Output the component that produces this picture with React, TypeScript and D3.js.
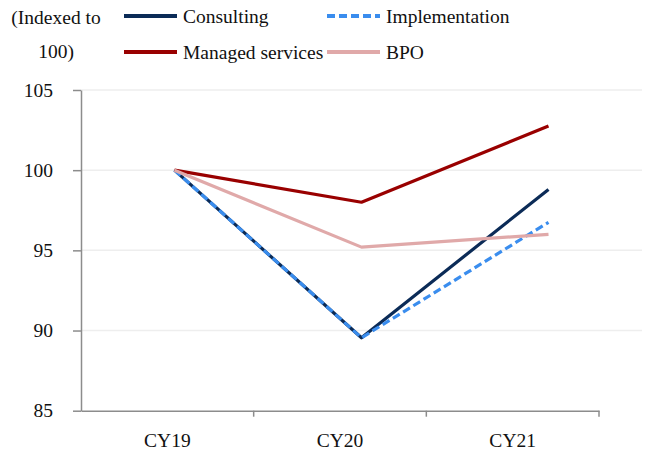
import React, { useEffect, useRef } from 'react';
import * as d3 from 'd3';

const years = ['CY19', 'CY20', 'CY21'];
const consulting = [100, 89.55, 98.8];
const implementation = [100, 89.55, 96.75];
const managed = [100, 98.0, 102.75];
const bpo = [100, 95.2, 96.0];
const yTicks = [85, 90, 95, 100, 105];

const series = [
  { name: 'Consulting', values: consulting, color: '#0b2b57', dash: '' },
  { name: 'Implementation', values: implementation, color: '#3a8dee', dash: '8,4' },
  { name: 'Managed services', values: managed, color: '#990000', dash: '' },
  { name: 'BPO', values: bpo, color: '#e0a9a9', dash: '' },
];

const width = 667;
const height = 452;
const font = "'Liberation Serif', 'DejaVu Serif', serif";
const fs = 19.5;

function App() {
  const ref = useRef<SVGSVGElement>(null);

  useEffect(() => {
    const svg = d3.select(ref.current);
    svg.selectAll('*').remove();

    const y = d3.scaleLinear().domain([85, 105]).range([410.7, 90]);
    const xPlot = d3.scaleBand<string>().domain(years).range([81, 642]);
    const xAxisScale = d3.scaleBand<string>().domain(years).range([81, 599]);

    // grid
    svg.append('g')
      .selectAll('line')
      .data(yTicks.slice(1))
      .join('line')
      .attr('x1', 81).attr('x2', 642)
      .attr('y1', d => y(d)).attr('y2', d => y(d))
      .attr('stroke', '#eeeeee').attr('stroke-width', 1.5);

    // y axis
    const yAxis = svg.append('g')
      .attr('transform', 'translate(81,0)')
      .call(d3.axisLeft(y).tickValues(yTicks).tickSize(8).tickSizeOuter(0).tickPadding(20));
    yAxis.select('.domain').attr('stroke', '#8c8c8c').attr('stroke-width', 1.5);
    yAxis.selectAll('.tick line').attr('stroke', '#8c8c8c').attr('stroke-width', 1.5);
    yAxis.selectAll('.tick text')
      .attr('font-family', font).attr('font-size', fs).attr('fill', '#111');

    // x axis
    const xAxis = svg.append('g')
      .attr('transform', `translate(0,${y(85)})`)
      .call(d3.axisBottom(xAxisScale).tickSize(0).tickPadding(22));
    xAxis.select('.domain').attr('stroke', '#8c8c8c').attr('stroke-width', 1.5);
    xAxis.selectAll('.tick text')
      .attr('font-family', font).attr('font-size', fs).attr('fill', '#111');
    xAxis.append('g')
      .selectAll('line')
      .data(years)
      .join('line')
      .attr('x1', d => (xAxisScale(d) as number) + xAxisScale.bandwidth())
      .attr('x2', d => (xAxisScale(d) as number) + xAxisScale.bandwidth())
      .attr('y1', 0).attr('y2', 6)
      .attr('stroke', '#8c8c8c').attr('stroke-width', 1.5);

    // lines
    const line = d3.line<number>()
      .x((_, i) => (xPlot(years[i]) as number) + xPlot.bandwidth() / 2)
      .y(d => y(d));

    svg.append('g')
      .selectAll('path')
      .data(series)
      .join('path')
      .attr('d', d => line(d.values))
      .attr('fill', 'none')
      .attr('stroke', d => d.color)
      .attr('stroke-width', 3.2)
      .attr('stroke-dasharray', d => d.dash)
      .attr('stroke-linejoin', 'round');

    // legend
    const lg = svg.append('g');
    lg.append('text')
      .attr('x', 56).attr('y', 24)
      .attr('text-anchor', 'middle')
      .attr('font-family', font).attr('font-size', fs).attr('fill', '#111')
      .text('(Indexed to');
    lg.append('text')
      .attr('x', 56).attr('y', 58)
      .attr('text-anchor', 'middle')
      .attr('font-family', font).attr('font-size', fs).attr('fill', '#111')
      .text('100)');

    const pos = [
      { x: 124, y: 16 },
      { x: 327, y: 16 },
      { x: 124, y: 52 },
      { x: 327, y: 52 },
    ];
    const items = lg.selectAll('g.item')
      .data(series)
      .join('g')
      .attr('class', 'item')
      .attr('transform', (_, i) => `translate(${pos[i].x},${pos[i].y})`);
    items.append('line')
      .attr('x1', 0).attr('x2', 53)
      .attr('stroke', d => d.color)
      .attr('stroke-width', 4)
      .attr('stroke-dasharray', d => d.dash);
    items.append('text')
      .attr('x', 59).attr('y', 7)
      .attr('font-family', font).attr('font-size', fs).attr('fill', '#111')
      .text(d => d.name);
  }, []);

  return <svg ref={ref} width={width} height={height} style={{ position: 'absolute', left: 0, top: 0 }} />;
}

export default App;
